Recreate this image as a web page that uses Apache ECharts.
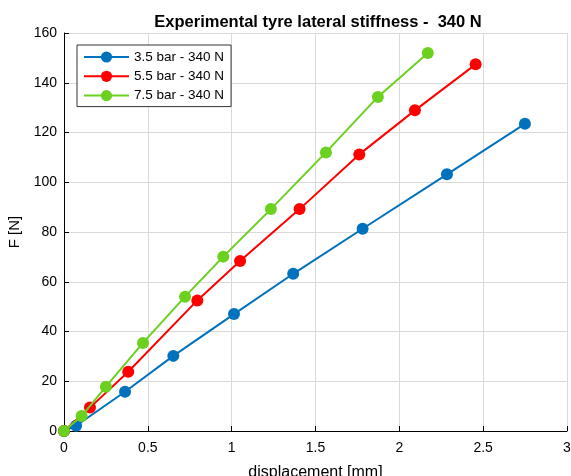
<!DOCTYPE html>
<html><head><meta charset="utf-8">
<script src="https://cdn.jsdelivr.net/npm/echarts@6/dist/echarts.min.js"></script>
<style>html,body{margin:0;padding:0;background:#fff}#c{width:571px;height:476px}</style>
</head><body><div id="c"></div>
<script>
const seriesNames = ['3.5 bar - 340 N', '5.5 bar - 340 N', '7.5 bar - 340 N'];
const blueX = [0, 0.072, 0.364, 0.652, 1.014, 1.367, 1.781, 2.284, 2.749];
const blueY = [0, 2.1, 15.8, 30.2, 47, 63.2, 81.3, 103.2, 123.5];
const redX = [0, 0.155, 0.383, 0.795, 1.05, 1.405, 1.761, 2.093, 2.455];
const redY = [0, 9.4, 23.8, 52.5, 68.3, 89.2, 111.2, 128.9, 147.4];
const greenX = [0, 0.105, 0.25, 0.471, 0.722, 0.95, 1.234, 1.562, 1.872, 2.17];
const greenY = [0, 6, 17.8, 35.4, 54, 70.1, 89.2, 112, 134.3, 152];
const xTicks = [0, 0.5, 1, 1.5, 2, 2.5, 3];
const yTicks = [0, 20, 40, 60, 80, 100, 120, 140, 160];

const colors = ['#0072BD', '#FF0000', '#6AD11E'];
const xs = [blueX, redX, greenX], ys = [blueY, redY, greenY];
const font = 'Liberation Sans, Arial, Helvetica, sans-serif';
const chart = echarts.init(document.getElementById('c'));
chart.setOption({
  animation: false,
  backgroundColor: '#fff',
  title: {
    text: 'Experimental tyre lateral stiffness -  340 N',
    left: 313, top: 9, textAlign: 'center',
    textStyle: {fontFamily: font, fontSize: 16.5, fontWeight: 'bold', color: '#000'}
  },
  legend: {
    left: 77, top: 45, orient: 'vertical',
    backgroundColor: '#fff', borderColor: '#333', borderWidth: 1, borderRadius: 0,
    padding: [4, 7, 3, 6], itemGap: 3.3, itemWidth: 45, itemHeight: 14,
    textStyle: {fontFamily: font, fontSize: 13.5, color: '#000', lineHeight: 16},
    data: seriesNames
  },
  grid: {left: 64, right: 4, top: 33, bottom: 45, containLabel: false, outerBoundsMode: 'none'},
  xAxis: {
    type: 'value', min: 0, max: 3, interval: 0.5,
    name: 'displacement [mm]', nameLocation: 'middle', nameGap: 34,
    nameTextStyle: {fontFamily: font, fontSize: 16, color: '#000'},
    axisLine: {show: true, onZero: false, lineStyle: {color: '#000', width: 1}},
    axisTick: {show: true, inside: true, length: 5, lineStyle: {color: '#000'}},
    axisLabel: {fontFamily: font, fontSize: 14, color: '#000', margin: 10,
      formatter: v => xTicks.includes(v) ? String(v) : ''},
    splitLine: {show: true, lineStyle: {color: '#dadada', width: 1}}
  },
  yAxis: {
    type: 'value', min: 0, max: 160, interval: 20,
    name: 'F [N]', nameLocation: 'middle', nameGap: 39,
    nameTextStyle: {fontFamily: font, fontSize: 15, color: '#000'},
    axisLine: {show: true, onZero: false, lineStyle: {color: '#000', width: 1}},
    axisTick: {show: true, inside: true, length: 5, lineStyle: {color: '#000'}},
    axisLabel: {fontFamily: font, fontSize: 14, color: '#000', margin: 7,
      formatter: v => yTicks.includes(v) ? String(v) : ''},
    splitLine: {show: true, lineStyle: {color: '#dadada', width: 1}}
  },
  series: seriesNames.map((n, i) => ({
    name: n, type: 'line',
    data: xs[i].map((x, j) => [x, ys[i][j]]),
    symbol: 'circle', symbolSize: 12, showAllSymbol: true,
    lineStyle: {color: colors[i], width: 2},
    itemStyle: {color: colors[i]},
    z: 2 + i
  }))
});
</script></body></html>
